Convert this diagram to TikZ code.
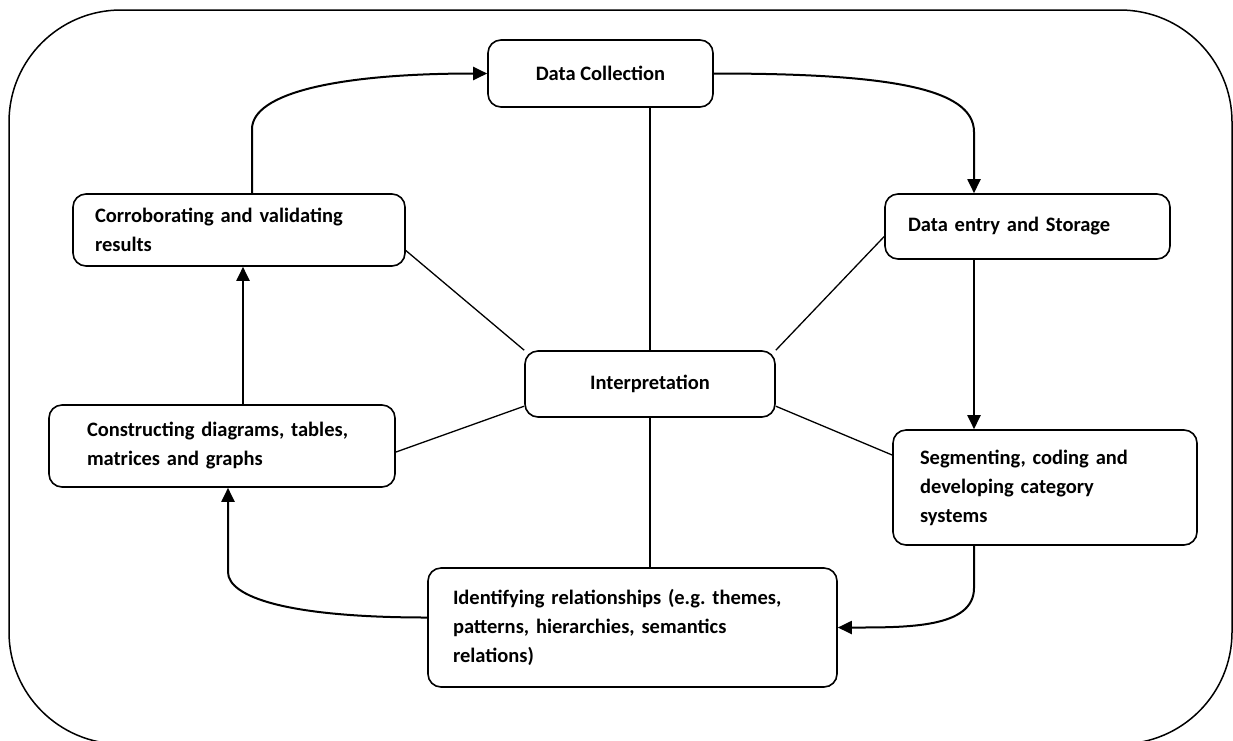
\documentclass[tikz,border=0pt]{standalone}
\usepackage{fontspec}
\setmainfont{Carlito}
\frenchspacing
\usetikzlibrary{arrows.meta}

\begin{document}
\begin{tikzpicture}[x = 1pt, y = -1pt,
    box/.style = {draw, line width = 1.6pt, rounded corners = 13pt, align = left,
                  font = \fontsize{20.5}{29}\selectfont\bfseries},
    link/.style = {line width = 1.3pt},
    flow/.style = {line width = 2pt, -{Triangle[length = 14pt, width = 13pt]}}]
        \useasboundingbox (0,0) rectangle (1233,740);
        \draw[line width = 1.5pt, rounded corners = 112pt] (9,10) rectangle (1232,744);

        \node[box, align = center, minimum width = 225pt, minimum height = 67pt] (coll) at (600.5,73.5) {Data Collection};
        \node[box, text width = 288pt, inner xsep = 22pt, minimum height = 72pt] (corr) at (239,230) {Corroborating and validating\\results};
        \node[box, text width = 239pt, inner xsep = 23pt, minimum height = 65pt] (entry) at (1027.5,226.5) {Data entry and Storage};
        \node[box, align = center, minimum width = 250pt, minimum height = 66pt] (interp) at (650,384) {Interpretation};
        \node[box, text width = 270pt, inner xsep = 38pt, minimum height = 82pt] (cons) at (222,446) {Constructing diagrams, tables,\\matrices and graphs};
        \node[box, text width = 250pt, inner xsep = 27pt, minimum height = 115pt] (seg) at (1045,487.5) {Segmenting, coding and\\developing category\\systems};
        \node[box, text width = 359pt, inner xsep = 25pt, minimum height = 119pt] (ident) at (632.5,627.5) {Identifying relationships (e.g. themes,\\patterns, hierarchies, semantics\\relations)};

        \coordinate (rail) at (974,0);
        \coordinate (lrail) at (228,0);

        \draw[link] (interp.north) -- (interp.north |- coll.south);
        \draw[link] (interp.south) -- (interp.south |- ident.north);
        \draw[link] (corr.-7) -- (interp.north west);
        \draw[link] (entry.184) -- (interp.north east);
        \draw[link] (cons.-2) -- (interp.190);
        \draw[link] (seg.168) -- (interp.-10);

        \draw[flow] ([xshift = 13pt]corr.north) -- ++(0,-64) .. controls +(0,-36) and +(-150,0) .. (coll.west);
        \draw[flow] (coll.east) .. controls +(170,0) and +(0,-45) .. (rail |- 0,132) -- (rail |- entry.north);
        \draw[flow] (rail |- entry.south) -- (rail |- seg.north);
        \draw[flow] (rail |- seg.south) -- (rail |- 0,588) .. controls +(0,40) and +(70,0) .. (ident.east);
        \draw[flow] ([yshift = 10pt]ident.west) .. controls +(-140,0) and +(0,25) .. (lrail |- 0,572) -- (lrail |- cons.south);
        \draw[flow] ([xshift = 21pt]cons.north) -- ([xshift = 4pt]corr.south);
      \end{tikzpicture}
\end{document}
